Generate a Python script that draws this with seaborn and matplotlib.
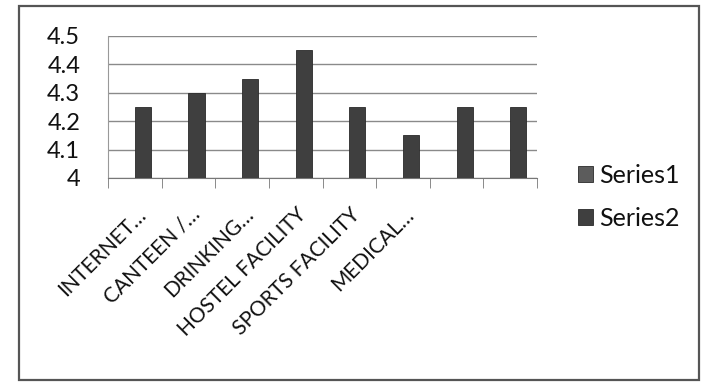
import matplotlib
matplotlib.use("Agg")
import matplotlib.pyplot as plt
import matplotlib.transforms as mtransforms
import seaborn as sns
import pandas as pd
from matplotlib.patches import Rectangle

categories = ["INTERNET…", "CANTEEN /…", "DRINKING…", "HOSTEL FACILITY",
              "SPORTS FACILITY", "MEDICAL…", "CAT7", "CAT8"]
tick_labels = ["INTERNET…", "CANTEEN /…", "DRINKING…", "HOSTEL FACILITY",
               "SPORTS FACILITY", "MEDICAL…", "", ""]
series1 = [0, 0, 0, 0, 0, 0, 0, 0]
series2 = [4.25, 4.30, 4.35, 4.45, 4.25, 4.15, 4.25, 4.25]
y_ticks = [4, 4.1, 4.2, 4.3, 4.4, 4.5]
y_tick_labels = ["4", "4.1", "4.2", "4.3", "4.4", "4.5"]

df = pd.DataFrame({
    "cat": categories * 2,
    "value": series1 + series2,
    "series": ["Series1"] * len(categories) + ["Series2"] * len(categories),
})

sns.set_style("white")
plt.rcParams["font.family"] = ["Lato", "DejaVu Sans"]

fig = plt.figure(figsize=(7.04, 3.84), dpi=100)
fig.patches.append(Rectangle((19 / 704, 4 / 384), 680 / 704, 374 / 384,
                             transform=fig.transFigure, fill=False,
                             edgecolor="#555555", linewidth=1.6))
ax = fig.add_axes([108 / 704, 1 - 178 / 384, 429 / 704, 142 / 384])

sns.barplot(data=df, x="cat", y="value", hue="series", order=categories,
            hue_order=["Series1", "Series2"],
            palette={"Series1": "#5c5c5c", "Series2": "#3f3f3f"},
            width=0.6, ax=ax, edgecolor="#2a2a2a", linewidth=0.6, zorder=3)

ax.set_ylim(4, 4.5)
ax.set_xlim(-0.5, len(categories) - 0.5)
ax.set_yticks(y_ticks)
ax.set_yticklabels(y_tick_labels, fontsize=17, color="#111111")
ax.yaxis.grid(True, color="#8a8a8a", linewidth=1.0, zorder=0)
ax.set_axisbelow(True)
for s in ["top", "right"]:
    ax.spines[s].set_visible(False)
ax.spines["left"].set_color("#999999")
ax.spines["bottom"].set_color("#777777")
ax.tick_params(axis="y", length=8, color="#8a8a8a", pad=12)

ax.set_xticks(range(len(categories)))
ax.set_xticklabels(tick_labels, rotation=45, ha="right", va="center",
                   rotation_mode="anchor", fontsize=15, color="#111111")
ax.tick_params(axis="x", length=0, pad=24)
offset = mtransforms.ScaledTranslation(8 / 100, 0, fig.dpi_scale_trans)
for lbl in ax.get_xticklabels():
    lbl.set_transform(lbl.get_transform() + offset)
ax.set_xticks([i - 0.5 for i in range(len(categories) + 1)], minor=True)
ax.tick_params(axis="x", which="minor", length=7, color="#777777", bottom=True)
ax.set_xlabel("")
ax.set_ylabel("")

sns.move_legend(ax, loc="center left",
                bbox_to_anchor=(578 / 704, 1 - 197 / 384),
                bbox_transform=fig.transFigure,
                frameon=False, title=None, fontsize=18, labelspacing=0.8,
                handlelength=0.6, handleheight=0.6, handletextpad=0.25,
                borderpad=0, borderaxespad=0)
for t in ax.get_legend().get_texts():
    t.set_color("#111111")

fig.savefig("out.png", dpi=100)
